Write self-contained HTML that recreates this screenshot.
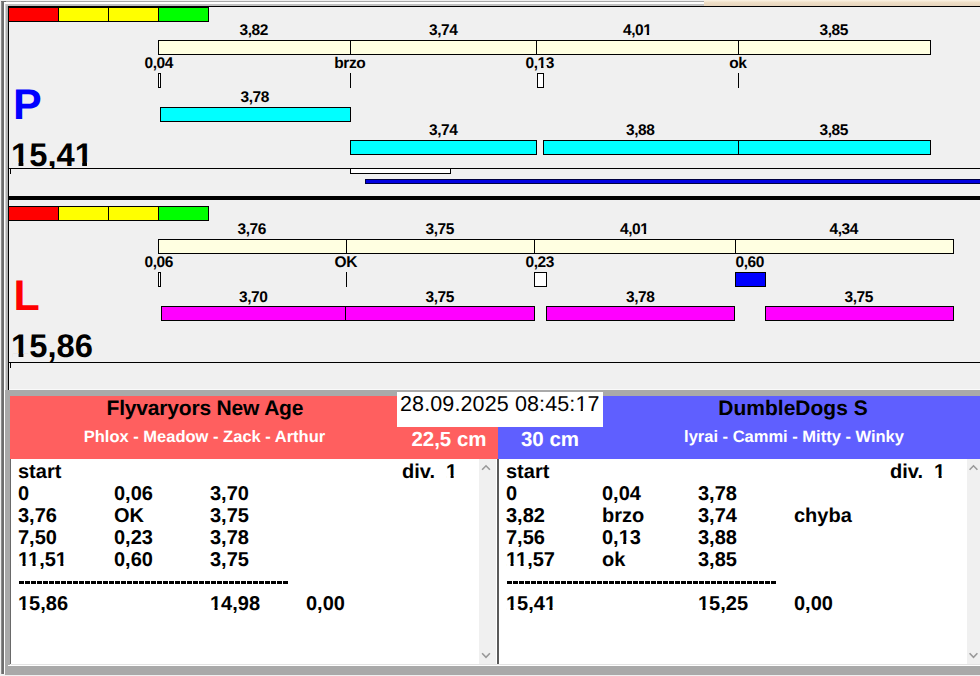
<!DOCTYPE html>
<html><head><meta charset="utf-8"><style>
html,body{margin:0;padding:0;}
body{width:980px;height:676px;overflow:hidden;background:#f0f0f0;position:relative;font-family:"Liberation Sans", sans-serif;}
.a{position:absolute;}
text{text-rendering:geometricPrecision;white-space:pre;}
</style></head><body>
<div class="a" style="left:1px;top:1px;width:1px;height:673px;background:#8c8c8c;"></div>
<div class="a" style="left:2px;top:1px;width:2px;height:673px;background:#6d6d6d;"></div>
<div class="a" style="left:4px;top:2px;width:1px;height:672px;background:#ffffff;"></div>
<div class="a" style="left:5px;top:4px;width:1px;height:386px;background:#d4d4d4;"></div>
<div class="a" style="left:6px;top:4px;width:2px;height:386px;background:#b0b0b0;"></div>
<div class="a" style="left:1px;top:1px;width:703px;height:1px;background:#a8a8a8;"></div>
<div class="a" style="left:1px;top:1px;width:5px;height:1px;background:#707070;"></div>
<div class="a" style="left:4px;top:2px;width:700px;height:2px;background:#ffffff;"></div>
<div class="a" style="left:6px;top:4px;width:698px;height:2px;background:#c0c0c0;"></div>
<div class="a" style="left:704px;top:0px;width:276px;height:6px;background:#f0dcc4;background:linear-gradient(#fcf4e6,#f0e0c8 40%,#e6d4bc);"></div>
<div class="a" style="left:8px;top:6px;width:972px;height:1px;background:#000;"></div>
<div class="a" style="left:8px;top:6px;width:1px;height:384px;background:#000;"></div>
<div class="a" style="left:8px;top:7px;width:201px;height:15px;background:#000;"></div>
<div class="a" style="left:9px;top:8px;width:49px;height:13px;background:#ff0000;"></div>
<div class="a" style="left:59px;top:8px;width:49px;height:13px;background:#ffff00;"></div>
<div class="a" style="left:109px;top:8px;width:49px;height:13px;background:#ffff00;"></div>
<div class="a" style="left:159px;top:8px;width:49px;height:13px;background:#00ff00;"></div>
<div class="a" style="left:158px;top:40px;width:773px;height:15px;background:#ffffe1;box-sizing:border-box;border:1px solid #000;"></div>
<div class="a" style="left:350px;top:40px;width:1px;height:15px;background:#000;"></div>
<div class="a" style="left:536px;top:40px;width:1px;height:15px;background:#000;"></div>
<div class="a" style="left:738px;top:40px;width:1px;height:15px;background:#000;"></div>
<div class="a" style="left:158px;top:73px;width:3px;height:15px;background:#fff;box-sizing:border-box;border:1px solid #000;"></div>
<div class="a" style="left:350px;top:73px;width:1px;height:15px;background:#000;"></div>
<div class="a" style="left:537px;top:73px;width:7px;height:15px;background:#fff;box-sizing:border-box;border:1px solid #000;"></div>
<div class="a" style="left:738px;top:73px;width:1px;height:15px;background:#000;"></div>
<div class="a" style="left:160px;top:107px;width:191px;height:15px;background:#00ffff;box-sizing:border-box;border:1px solid #000;"></div>
<div class="a" style="left:350px;top:140px;width:187px;height:15px;background:#00ffff;box-sizing:border-box;border:1px solid #000;"></div>
<div class="a" style="left:543px;top:140px;width:196px;height:15px;background:#00ffff;box-sizing:border-box;border:1px solid #000;"></div>
<div class="a" style="left:738px;top:140px;width:193px;height:15px;background:#00ffff;box-sizing:border-box;border:1px solid #000;"></div>
<div class="a" style="left:9px;top:168px;width:971px;height:1px;background:#000;"></div>
<div class="a" style="left:10px;top:169px;width:1px;height:5px;background:#000;"></div>
<div class="a" style="left:350px;top:168px;width:101px;height:6px;background:#fff;box-sizing:border-box;border:1px solid #000;"></div>
<div class="a" style="left:365px;top:179px;width:621px;height:5px;background:#0000e0;box-sizing:border-box;border:1px solid #000040;"></div>
<div class="a" style="left:9px;top:196px;width:971px;height:4px;background:#000;"></div>
<div class="a" style="left:8px;top:206px;width:201px;height:15px;background:#000;"></div>
<div class="a" style="left:9px;top:207px;width:49px;height:13px;background:#ff0000;"></div>
<div class="a" style="left:59px;top:207px;width:49px;height:13px;background:#ffff00;"></div>
<div class="a" style="left:109px;top:207px;width:49px;height:13px;background:#ffff00;"></div>
<div class="a" style="left:159px;top:207px;width:49px;height:13px;background:#00ff00;"></div>
<div class="a" style="left:158px;top:239px;width:796px;height:15px;background:#ffffe1;box-sizing:border-box;border:1px solid #000;"></div>
<div class="a" style="left:346px;top:239px;width:1px;height:15px;background:#000;"></div>
<div class="a" style="left:534px;top:239px;width:1px;height:15px;background:#000;"></div>
<div class="a" style="left:735px;top:239px;width:1px;height:15px;background:#000;"></div>
<div class="a" style="left:158px;top:272px;width:3px;height:15px;background:#fff;box-sizing:border-box;border:1px solid #000;"></div>
<div class="a" style="left:346px;top:272px;width:1px;height:15px;background:#000;"></div>
<div class="a" style="left:534px;top:272px;width:13px;height:15px;background:#fff;box-sizing:border-box;border:1px solid #000;"></div>
<div class="a" style="left:735px;top:272px;width:31px;height:15px;background:#0000ff;box-sizing:border-box;border:1px solid #000;"></div>
<div class="a" style="left:161px;top:306px;width:374px;height:15px;background:#ff00ff;box-sizing:border-box;border:1px solid #000;"></div>
<div class="a" style="left:345px;top:306px;width:1px;height:15px;background:#000;"></div>
<div class="a" style="left:546px;top:306px;width:189px;height:15px;background:#ff00ff;box-sizing:border-box;border:1px solid #000;"></div>
<div class="a" style="left:765px;top:306px;width:189px;height:15px;background:#ff00ff;box-sizing:border-box;border:1px solid #000;"></div>
<div class="a" style="left:9px;top:362px;width:971px;height:1px;background:#000;"></div>
<div class="a" style="left:10px;top:363px;width:1px;height:5px;background:#000;"></div>
<div class="a" style="left:9px;top:389px;width:971px;height:1px;background:#fafafa;"></div>
<div class="a" style="left:6px;top:390px;width:974px;height:6px;background:#a9a9a9;"></div>
<div class="a" style="left:5px;top:390px;width:5px;height:284px;background:#a9a9a9;"></div>
<div class="a" style="left:5px;top:666px;width:975px;height:9px;background:#a9a9a9;"></div>
<div class="a" style="left:10px;top:396px;width:488px;height:63px;background:#ff5f5f;"></div>
<div class="a" style="left:498px;top:396px;width:482px;height:63px;background:#5f5fff;"></div>
<div class="a" style="left:10px;top:459px;width:1px;height:205px;background:#696969;"></div>
<div class="a" style="left:11px;top:459px;width:486px;height:205px;background:#ffffff;"></div>
<div class="a" style="left:479px;top:459px;width:17px;height:205px;background:#f0f0f0;"></div>
<div class="a" style="left:497px;top:459px;width:2px;height:205px;background:#5a5a5a;"></div>
<div class="a" style="left:499px;top:459px;width:481px;height:205px;background:#ffffff;"></div>
<div class="a" style="left:967px;top:459px;width:13px;height:205px;background:#f0f0f0;"></div>
<div class="a" style="left:11px;top:664px;width:969px;height:1px;background:#e3e3e3;"></div>
<div class="a" style="left:8px;top:665px;width:972px;height:1px;background:#ffffff;"></div>
<div class="a" style="left:397px;top:392px;width:206px;height:35px;background:#ffffff;"></div>
<div class="a" style="left:19px;top:581px;width:270px;height:3px;background:repeating-linear-gradient(90deg,#000 0 5px,transparent 5px 6px);"></div>
<div class="a" style="left:507px;top:581px;width:270px;height:3px;background:repeating-linear-gradient(90deg,#000 0 5px,transparent 5px 6px);"></div>
<svg class="a" style="left:0;top:0" width="980" height="676"><path d="M482.1,469.8 L486,465.8 L489.9,469.8" fill="none" stroke="#999999" stroke-width="1.6"/><path d="M482.1,653.3 L486,657.3 L489.9,653.3" fill="none" stroke="#999999" stroke-width="1.6"/><path d="M969.6,469.8 L973.5,465.8 L977.4,469.8" fill="none" stroke="#999999" stroke-width="1.6"/><path d="M969.6,653.3 L973.5,657.3 L977.4,653.3" fill="none" stroke="#999999" stroke-width="1.6"/></svg>
<svg class="a" style="left:0;top:0;white-space:pre" width="980" height="676" xml:space="preserve"><text x="253.78" y="35" text-anchor="middle" fill="#000" style="font-size:15.5px;font-weight:bold;letter-spacing:-0.45px;">3,82</text><text x="443.27" y="35" text-anchor="middle" fill="#000" style="font-size:15.5px;font-weight:bold;letter-spacing:-0.45px;">3,74</text><text x="637.27" y="35" text-anchor="middle" fill="#000" style="font-size:15.5px;font-weight:bold;letter-spacing:-0.45px;">4,01</text><text x="833.77" y="35" text-anchor="middle" fill="#000" style="font-size:15.5px;font-weight:bold;letter-spacing:-0.45px;">3,85</text><text x="158.78" y="68" text-anchor="middle" fill="#000" style="font-size:15.5px;font-weight:bold;letter-spacing:-0.45px;">0,04</text><text x="349.77" y="68" text-anchor="middle" fill="#000" style="font-size:15.5px;font-weight:bold;letter-spacing:-0.45px;">brzo</text><text x="539.77" y="68" text-anchor="middle" fill="#000" style="font-size:15.5px;font-weight:bold;letter-spacing:-0.45px;">0,13</text><text x="737.77" y="68" text-anchor="middle" fill="#000" style="font-size:15.5px;font-weight:bold;letter-spacing:-0.45px;">ok</text><text x="13" y="118.6" fill="#0000ff" style="font-size:43px;font-weight:bold;">P</text><text x="254.78" y="102" text-anchor="middle" fill="#000" style="font-size:15.5px;font-weight:bold;letter-spacing:-0.45px;">3,78</text><text x="443.27" y="135" text-anchor="middle" fill="#000" style="font-size:15.5px;font-weight:bold;letter-spacing:-0.45px;">3,74</text><text x="640.27" y="135" text-anchor="middle" fill="#000" style="font-size:15.5px;font-weight:bold;letter-spacing:-0.45px;">3,88</text><text x="833.77" y="135" text-anchor="middle" fill="#000" style="font-size:15.5px;font-weight:bold;letter-spacing:-0.45px;">3,85</text><text x="11.1" y="166" fill="#000" style="font-size:32.7px;font-weight:bold;">15,41</text><text x="251.78" y="234" text-anchor="middle" fill="#000" style="font-size:15.5px;font-weight:bold;letter-spacing:-0.45px;">3,76</text><text x="439.77" y="234" text-anchor="middle" fill="#000" style="font-size:15.5px;font-weight:bold;letter-spacing:-0.45px;">3,75</text><text x="634.27" y="234" text-anchor="middle" fill="#000" style="font-size:15.5px;font-weight:bold;letter-spacing:-0.45px;">4,01</text><text x="843.77" y="234" text-anchor="middle" fill="#000" style="font-size:15.5px;font-weight:bold;letter-spacing:-0.45px;">4,34</text><text x="158.78" y="267" text-anchor="middle" fill="#000" style="font-size:15.5px;font-weight:bold;letter-spacing:-0.45px;">0,06</text><text x="345.77" y="267" text-anchor="middle" fill="#000" style="font-size:15.5px;font-weight:bold;letter-spacing:-0.45px;">OK</text><text x="539.77" y="267" text-anchor="middle" fill="#000" style="font-size:15.5px;font-weight:bold;letter-spacing:-0.45px;">0,23</text><text x="749.77" y="267" text-anchor="middle" fill="#000" style="font-size:15.5px;font-weight:bold;letter-spacing:-0.45px;">0,60</text><text x="13.5" y="309.6" fill="#ff0000" style="font-size:43px;font-weight:bold;">L</text><text x="253.28" y="301.5" text-anchor="middle" fill="#000" style="font-size:15.5px;font-weight:bold;letter-spacing:-0.45px;">3,70</text><text x="439.77" y="301.5" text-anchor="middle" fill="#000" style="font-size:15.5px;font-weight:bold;letter-spacing:-0.45px;">3,75</text><text x="640.27" y="301.5" text-anchor="middle" fill="#000" style="font-size:15.5px;font-weight:bold;letter-spacing:-0.45px;">3,78</text><text x="858.77" y="301.5" text-anchor="middle" fill="#000" style="font-size:15.5px;font-weight:bold;letter-spacing:-0.45px;">3,75</text><text x="11.1" y="357.3" fill="#000" style="font-size:32.7px;font-weight:bold;">15,86</text><text x="400" y="411" fill="#000" style="font-size:21.5px;font-weight:normal;letter-spacing:0.12px;">28.09.2025 08:45:17</text><text x="204.91" y="415" text-anchor="middle" fill="#000" style="font-size:21px;font-weight:bold;letter-spacing:-0.18px;">Flyvaryors New Age</text><text x="204.50" y="442" text-anchor="middle" fill="#fff" style="font-size:16.5px;font-weight:bold;">Phlox - Meadow - Zack - Arthur</text><text x="449.00" y="446" text-anchor="middle" fill="#fff" style="font-size:20.5px;font-weight:bold;">22,5 cm</text><text x="550.00" y="446" text-anchor="middle" fill="#fff" style="font-size:20.5px;font-weight:bold;">30 cm</text><text x="793.00" y="415" text-anchor="middle" fill="#000" style="font-size:21px;font-weight:bold;">DumbleDogs S</text><text x="794.00" y="442" text-anchor="middle" fill="#fff" style="font-size:16.5px;font-weight:bold;">lyrai - Cammi - Mitty - Winky</text><text x="18" y="478" fill="#000" style="font-size:20px;font-weight:bold;">start</text><text x="402" y="478" fill="#000" style="font-size:20px;font-weight:bold;">div.  1</text><text x="18" y="500" fill="#000" style="font-size:20px;font-weight:bold;">0</text><text x="114" y="500" fill="#000" style="font-size:20px;font-weight:bold;">0,06</text><text x="210" y="500" fill="#000" style="font-size:20px;font-weight:bold;">3,70</text><text x="18" y="522" fill="#000" style="font-size:20px;font-weight:bold;">3,76</text><text x="114" y="522" fill="#000" style="font-size:20px;font-weight:bold;">OK</text><text x="210" y="522" fill="#000" style="font-size:20px;font-weight:bold;">3,75</text><text x="18" y="544" fill="#000" style="font-size:20px;font-weight:bold;">7,50</text><text x="114" y="544" fill="#000" style="font-size:20px;font-weight:bold;">0,23</text><text x="210" y="544" fill="#000" style="font-size:20px;font-weight:bold;">3,78</text><text x="18" y="566" fill="#000" style="font-size:20px;font-weight:bold;">11,51</text><text x="114" y="566" fill="#000" style="font-size:20px;font-weight:bold;">0,60</text><text x="210" y="566" fill="#000" style="font-size:20px;font-weight:bold;">3,75</text><text x="18" y="610" fill="#000" style="font-size:20px;font-weight:bold;">15,86</text><text x="210" y="610" fill="#000" style="font-size:20px;font-weight:bold;">14,98</text><text x="306" y="610" fill="#000" style="font-size:20px;font-weight:bold;">0,00</text><text x="506" y="478" fill="#000" style="font-size:20px;font-weight:bold;">start</text><text x="890" y="478" fill="#000" style="font-size:20px;font-weight:bold;">div.  1</text><text x="506" y="500" fill="#000" style="font-size:20px;font-weight:bold;">0</text><text x="602" y="500" fill="#000" style="font-size:20px;font-weight:bold;">0,04</text><text x="698" y="500" fill="#000" style="font-size:20px;font-weight:bold;">3,78</text><text x="506" y="522" fill="#000" style="font-size:20px;font-weight:bold;">3,82</text><text x="602" y="522" fill="#000" style="font-size:20px;font-weight:bold;">brzo</text><text x="698" y="522" fill="#000" style="font-size:20px;font-weight:bold;">3,74</text><text x="794" y="522" fill="#000" style="font-size:20px;font-weight:bold;">chyba</text><text x="506" y="544" fill="#000" style="font-size:20px;font-weight:bold;">7,56</text><text x="602" y="544" fill="#000" style="font-size:20px;font-weight:bold;">0,13</text><text x="698" y="544" fill="#000" style="font-size:20px;font-weight:bold;">3,88</text><text x="506" y="566" fill="#000" style="font-size:20px;font-weight:bold;">11,57</text><text x="602" y="566" fill="#000" style="font-size:20px;font-weight:bold;">ok</text><text x="698" y="566" fill="#000" style="font-size:20px;font-weight:bold;">3,85</text><text x="506" y="610" fill="#000" style="font-size:20px;font-weight:bold;">15,41</text><text x="698" y="610" fill="#000" style="font-size:20px;font-weight:bold;">15,25</text><text x="794" y="610" fill="#000" style="font-size:20px;font-weight:bold;">0,00</text></svg>
<svg class="a" style="left:0;top:0" width="980" height="676"><rect x="643.25" y="32.62" width="3.49" height="3.08" fill="#f0f0f0"/><rect x="649.16" y="32.62" width="3.29" height="3.08" fill="#f0f0f0"/><rect x="537.57" y="65.62" width="3.49" height="3.08" fill="#f0f0f0"/><rect x="543.49" y="65.62" width="3.29" height="3.08" fill="#f0f0f0"/><rect x="12.16" y="161.86" width="6.42" height="4.84" fill="#f0f0f0"/><rect x="23.37" y="161.86" width="6.01" height="4.84" fill="#f0f0f0"/><rect x="75.77" y="161.86" width="6.42" height="4.84" fill="#f0f0f0"/><rect x="86.98" y="161.86" width="6.01" height="4.84" fill="#f0f0f0"/><rect x="640.25" y="231.62" width="3.49" height="3.08" fill="#f0f0f0"/><rect x="646.16" y="231.62" width="3.29" height="3.08" fill="#f0f0f0"/><rect x="12.16" y="353.16" width="6.42" height="4.84" fill="#f0f0f0"/><rect x="23.37" y="353.16" width="6.01" height="4.84" fill="#f0f0f0"/><rect x="576.03" y="408.59" width="4.62" height="3.11" fill="#ffffff"/><rect x="582.85" y="408.59" width="4.45" height="3.11" fill="#ffffff"/><rect x="446.34" y="475.16" width="4.26" height="3.54" fill="#ffffff"/><rect x="453.64" y="475.16" width="4.00" height="3.54" fill="#ffffff"/><rect x="18.26" y="563.16" width="4.26" height="3.54" fill="#ffffff"/><rect x="25.56" y="563.16" width="4.00" height="3.54" fill="#ffffff"/><rect x="28.28" y="563.16" width="4.26" height="3.54" fill="#ffffff"/><rect x="35.58" y="563.16" width="4.00" height="3.54" fill="#ffffff"/><rect x="56.07" y="563.16" width="4.26" height="3.54" fill="#ffffff"/><rect x="63.37" y="563.16" width="4.00" height="3.54" fill="#ffffff"/><rect x="18.26" y="607.16" width="4.26" height="3.54" fill="#ffffff"/><rect x="25.56" y="607.16" width="4.00" height="3.54" fill="#ffffff"/><rect x="210.26" y="607.16" width="4.26" height="3.54" fill="#ffffff"/><rect x="217.56" y="607.16" width="4.00" height="3.54" fill="#ffffff"/><rect x="934.34" y="475.16" width="4.26" height="3.54" fill="#ffffff"/><rect x="941.64" y="475.16" width="4.00" height="3.54" fill="#ffffff"/><rect x="618.93" y="541.16" width="4.26" height="3.54" fill="#ffffff"/><rect x="626.23" y="541.16" width="4.00" height="3.54" fill="#ffffff"/><rect x="506.26" y="563.16" width="4.26" height="3.54" fill="#ffffff"/><rect x="513.56" y="563.16" width="4.00" height="3.54" fill="#ffffff"/><rect x="516.28" y="563.16" width="4.26" height="3.54" fill="#ffffff"/><rect x="523.58" y="563.16" width="4.00" height="3.54" fill="#ffffff"/><rect x="506.26" y="607.16" width="4.26" height="3.54" fill="#ffffff"/><rect x="513.56" y="607.16" width="4.00" height="3.54" fill="#ffffff"/><rect x="545.18" y="607.16" width="4.26" height="3.54" fill="#ffffff"/><rect x="552.48" y="607.16" width="4.00" height="3.54" fill="#ffffff"/><rect x="698.26" y="607.16" width="4.26" height="3.54" fill="#ffffff"/><rect x="705.56" y="607.16" width="4.00" height="3.54" fill="#ffffff"/><rect x="47" y="169" width="11" height="3" fill="#f0f0f0"/></svg>
</body></html>
